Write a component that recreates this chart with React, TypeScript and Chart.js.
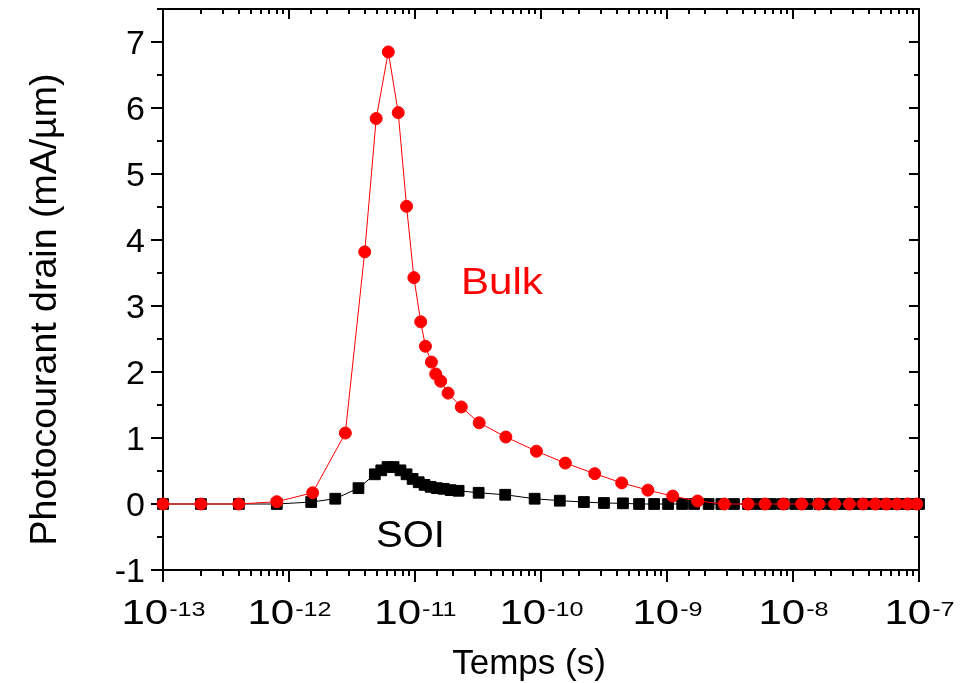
import { useEffect, useRef } from "react";
import { Chart, registerables } from "chart.js";

Chart.register(...registerables);

const FONT = "'Liberation Sans', Arial, Helvetica, sans-serif";

// Drain photocurrent transients (mA/µm) versus time (s)
const bulkTimes = [
  1e-13, 2e-13, 4e-13, 8e-13, 1.54e-12, 2.8e-12, 3.99e-12, 4.92e-12, 6.14e-12,
  7.36e-12, 8.57e-12, 9.8e-12, 1.11e-11, 1.21e-11, 1.35e-11, 1.46e-11, 1.6e-11,
  1.83e-11, 2.33e-11, 3.23e-11, 5.26e-11, 9.2e-11, 1.56e-10, 2.67e-10, 4.37e-10,
  7.05e-10, 1.11e-9, 1.75e-9, 2.85e-9, 4.4e-9, 6.0e-9, 8.4e-9, 1.17e-8, 1.6e-8,
  2.14e-8, 2.8e-8, 3.6e-8, 4.5e-8, 5.5e-8, 6.7e-8, 8.1e-8, 9.6e-8,
];
const bulkCurrent = [
  0, 0, 0, 0.035, 0.17, 1.075, 3.82, 5.84, 6.85,
  5.93, 4.51, 3.43, 2.76, 2.39, 2.15, 1.97, 1.86,
  1.68, 1.47, 1.23, 1.015, 0.8, 0.62, 0.46, 0.32,
  0.21, 0.12, 0.045, 0, 0, 0, 0, 0, 0,
  0, 0, 0, 0, 0, 0, 0, 0,
];

const soiTimes = [
  1e-13, 2e-13, 4e-13, 8e-13, 1.5e-12, 2.33e-12, 3.56e-12, 4.8e-12, 5.4e-12,
  6.05e-12, 6.76e-12, 7.67e-12, 8.57e-12, 9.57e-12, 1.07e-11, 1.19e-11, 1.33e-11,
  1.49e-11, 1.69e-11, 1.92e-11, 2.22e-11, 3.2e-11, 5.2e-11, 8.9e-11, 1.41e-10,
  2.19e-10, 3.16e-10, 4.47e-10, 6.0e-10, 7.9e-10, 1.02e-9, 1.32e-9, 1.64e-9,
  2.14e-9, 2.7e-9, 3.4e-9, 4.4e-9, 5.4e-9, 6.7e-9, 8.3e-9, 1.04e-8, 1.3e-8,
  1.62e-8, 2.0e-8, 2.5e-8, 3.1e-8, 3.9e-8, 4.9e-8, 6.1e-8, 7.6e-8, 9.1e-8, 1e-7,
];
const soiCurrent = [
  0, 0, 0, 0, 0.03, 0.08, 0.24, 0.45, 0.51,
  0.56, 0.56, 0.51, 0.45, 0.38, 0.33, 0.29, 0.26,
  0.24, 0.23, 0.21, 0.2, 0.17, 0.14, 0.08, 0.05,
  0.03, 0.015, 0.01, 0, 0, 0, 0, 0,
  0, 0, 0, 0, 0, 0, 0, 0, 0,
  0, 0, 0, 0, 0, 0, 0, 0, 0, 0,
];

// Axis ranges and labelled values
const xMin = 1e-13;
const xMax = 1e-7;
const yMin = -1;
const yMax = 7.5;
const yStep = 0.5;
const yLabelValues = [-1, 0, 1, 2, 3, 4, 5, 6, 7];

// In-plot series names, placed in data coordinates (text baseline)
const seriesNames = ["Bulk", "SOI"];
const seriesNameColors = ["#ff0000", "#000000"];
const seriesNameX = [4.9e-11, 9.2e-12];
const seriesNameY = [3.18, -0.65];
const seriesNameStretch = [1.17, 1.11];

const xTitle = "Temps (s)";
const yTitle = "Photocourant drain (mA/µm)";

const isDecade = (v: number) => {
  const lg = Math.log10(v);
  return Math.abs(lg - Math.round(lg)) < 1e-6;
};

// Draw text horizontally stretched around its own anchor point
const stretchedText = (ctx: any, text: string, x: number, y: number, sx: number) => {
  ctx.save();
  ctx.translate(x, y);
  ctx.scale(sx, 1);
  ctx.fillText(text, 0, 0);
  ctx.restore();
};

const axesPlugin = {
  id: "originAxes",
  beforeDatasetsDraw(chart: any) {
    const { ctx, chartArea } = chart;
    const { left, right, top, bottom } = chartArea;
    const xs = chart.scales.x;
    const ys = chart.scales.y;
    ctx.save();
    ctx.strokeStyle = "#000";
    ctx.fillStyle = "#000";
    ctx.lineWidth = 2;
    ctx.lineCap = "butt";

    const seg = (x1: number, y1: number, x2: number, y2: number) => {
      ctx.beginPath();
      ctx.moveTo(x1, y1);
      ctx.lineTo(x2, y2);
      ctx.stroke();
    };

    // frame
    ctx.strokeRect(left, top, right - left, bottom - top);

    // x ticks: outward at the bottom, inward on the mirrored top axis
    const labelStretch = 1.2;
    for (const t of xs.ticks) {
      const px = Math.round(xs.getPixelForValue(t.value));
      const major = isDecade(t.value);
      seg(px, bottom, px, bottom + (major ? 12 : 6));
      seg(px, top, px, top + (major ? 10 : 5));
      if (major) {
        const exp = String(Math.round(Math.log10(t.value)));
        ctx.font = `35px ${FONT}`;
        const wb = ctx.measureText("10").width * labelStretch;
        ctx.font = `21px ${FONT}`;
        const we = ctx.measureText(exp).width * labelStretch;
        const x0 = px - (wb + we) / 2;
        ctx.textAlign = "left";
        ctx.textBaseline = "alphabetic";
        ctx.font = `35px ${FONT}`;
        stretchedText(ctx, "10", x0, bottom + 54, labelStretch);
        ctx.font = `21px ${FONT}`;
        stretchedText(ctx, exp, x0 + wb + 1, bottom + 46, labelStretch);
      }
    }

    // y ticks: outward on the left, inward on the mirrored right axis
    for (const t of ys.ticks) {
      const py = Math.round(ys.getPixelForValue(t.value));
      const major = Number.isInteger(t.value);
      seg(left, py, left - (major ? 12 : 6), py);
      seg(right, py, right - (major ? 10 : 5), py);
    }
    ctx.font = `34px ${FONT}`;
    ctx.textAlign = "right";
    ctx.textBaseline = "alphabetic";
    for (const v of yLabelValues) {
      const py = ys.getPixelForValue(v);
      ctx.fillText(String(v), left - 18, py + 12);
    }

    // axis titles
    ctx.font = `35px ${FONT}`;
    ctx.textAlign = "center";
    ctx.fillText(xTitle, (left + right) / 2 - 12, bottom + 104);
    ctx.save();
    ctx.translate(56, (top + bottom) / 2 + 20);
    ctx.rotate(-Math.PI / 2);
    ctx.font = `37.5px ${FONT}`;
    ctx.fillText(yTitle, 0, 0);
    ctx.restore();
    ctx.restore();
  },
  afterDatasetsDraw(chart: any) {
    const { ctx } = chart;
    const xs = chart.scales.x;
    const ys = chart.scales.y;
    ctx.save();
    ctx.font = `36px ${FONT}`;
    ctx.textAlign = "center";
    ctx.textBaseline = "alphabetic";
    seriesNames.forEach((name, i) => {
      ctx.fillStyle = seriesNameColors[i];
      stretchedText(
        ctx,
        name,
        xs.getPixelForValue(seriesNameX[i]),
        ys.getPixelForValue(seriesNameY[i]),
        seriesNameStretch[i],
      );
    });
    ctx.restore();
  },
};

export default function App() {
  const canvasRef = useRef<HTMLCanvasElement | null>(null);

  useEffect(() => {
    const canvas = canvasRef.current;
    if (!canvas) return;
    const chart = new Chart(canvas, {
      type: "line",
      data: {
        datasets: [
          {
            label: "Bulk",
            data: bulkTimes.map((t, i) => ({ x: t, y: bulkCurrent[i] })),
            borderColor: "#ff0000",
            backgroundColor: "#ff0000",
            borderWidth: 1,
            pointStyle: "circle",
            pointRadius: 6,
            pointBorderWidth: 1,
            pointBorderColor: "#ff0000",
            pointBackgroundColor: "#ff0000",
            tension: 0,
            clip: false,
          },
          {
            label: "SOI",
            data: soiTimes.map((t, i) => ({ x: t, y: soiCurrent[i] })),
            borderColor: "#000000",
            backgroundColor: "#000000",
            borderWidth: 1,
            pointStyle: "rect",
            pointRadius: 7.6,
            pointBorderWidth: 1,
            pointBorderColor: "#000000",
            pointBackgroundColor: "#000000",
            tension: 0,
            clip: false,
          },
        ],
      },
      options: {
        animation: false,
        responsive: false,
        events: [],
        layout: { padding: { left: 163, right: 53, top: 9, bottom: 113 } },
        plugins: {
          legend: { display: false },
          tooltip: { enabled: false },
        },
        scales: {
          x: {
            type: "logarithmic",
            min: xMin,
            max: xMax,
            grid: { display: false },
            border: { display: false },
            ticks: { display: false },
            afterFit: (s: any) => {
              s.height = 0;
            },
          },
          y: {
            type: "linear",
            min: yMin,
            max: yMax,
            grid: { display: false },
            border: { display: false },
            ticks: { display: false, stepSize: yStep },
            afterFit: (s: any) => {
              s.width = 0;
            },
          },
        },
      },
      plugins: [axesPlugin],
    });
    return () => chart.destroy();
  }, []);

  return (
    <div style={{ position: "fixed", left: 0, top: 0, width: 972, height: 683, background: "#fff" }}>
      <canvas ref={canvasRef} width={972} height={683} style={{ display: "block", width: 972, height: 683 }} />
    </div>
  );
}
